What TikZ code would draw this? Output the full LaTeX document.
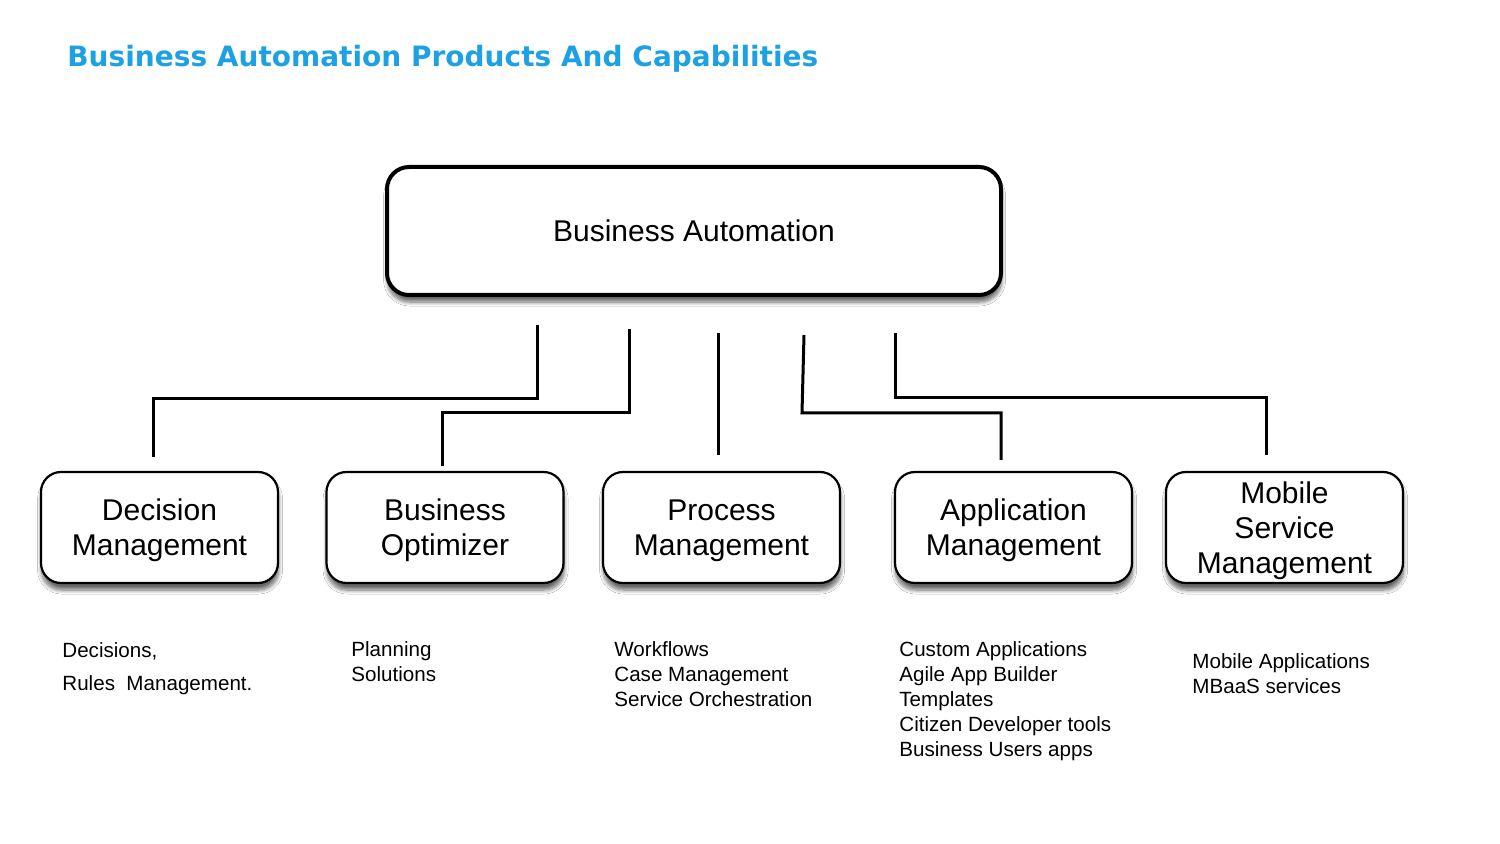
\documentclass[tikz,border=0pt]{standalone}
\usepackage{fontspec}
\setmainfont{Liberation Sans}
\newfontfamily\titlefont{DejaVu Sans}
\usetikzlibrary{shapes.geometric, shadows.blur}
\definecolor{titleblue}{RGB}{29,161,226}

\tikzstyle{topblock} = [rectangle, rounded corners=11pt, minimum width=307pt, minimum height=64pt, text centered, draw=black, line width=2pt, fill=white, blur shadow={shadow xshift=0.3pt, shadow yshift=-3.5pt, shadow blur radius=2pt, shadow blur steps=8, shadow opacity=60}, font=\fontsize{15}{18}\selectfont]
\tikzstyle{block} = [rectangle, rounded corners=10pt, minimum width=118.5pt, minimum height=55.5pt, align=center, draw=black, line width=1.1pt, fill=white, blur shadow={shadow xshift=0.3pt, shadow yshift=-3.5pt, shadow blur radius=2pt, shadow blur steps=8, shadow opacity=60}, font=\fontsize{15}{17.5}\selectfont, text depth=0pt]
\tikzstyle{desc} = [anchor=north west, align=left, inner sep=0pt, font=\fontsize{10.3}{12.5}\selectfont]
\tikzstyle{link} = [line width=1.5pt, line join=miter]

\begin{document}
\begin{tikzpicture}[x=0.5pt, y=-0.5pt]

\fill[white] (0,0) rectangle (1500,844);
\useasboundingbox (0,0) rectangle (1500,844);

% Title
\node (title) [anchor=west, inner sep=0pt, text=titleblue, font=\titlefont\bfseries\fontsize{14}{16}\selectfont] at (67,59) {Business Automation Products And Capabilities};

% Top-level box
\node (ba) [topblock] at (694,231) {Business Automation};

% Product boxes
\node (dm) [block] at (159.5,527.5) {Decision\\Management};
\node (bo) [block] at (445,527.5) {Business\\Optimizer};
\node (pm) [block] at (721.5,527.5) {Process\\Management};
\node (am) [block] at (1013.5,527.5) {Application\\Management};
\node (msm) [block] at (1284.5,527.5) {Mobile\\Service\\Management};

% Capabilities
\node (dm_caps) [desc, font=\fontsize{10.3}{16.8}\selectfont] at (62,642) {Decisions,\\Rules\ \ Management.};
\node (bo_caps) [desc] at (351,641) {Planning\\Solutions};
\node (pm_caps) [desc] at (614,641) {Workflows\\Case Management\\Service Orchestration};
\node (am_caps) [desc] at (899,641) {Custom Applications\\Agile App Builder\\Templates\\Citizen Developer tools\\Business Users apps};
\node (msm_caps) [desc] at (1192,653) {Mobile Applications\\MBaaS services};

% Connector ends
\coordinate (dm_from) at (537,325);
\coordinate (dm_to) at (153,457);
\coordinate (bo_from) at (629,329);
\coordinate (bo_to) at (442,466);
\coordinate (pm_from) at (718,333);
\coordinate (pm_to) at (718,455);
\coordinate (am_from) at (804,335);
\coordinate (am_to) at (1001,460);
\coordinate (msm_from) at (895,333);
\coordinate (msm_to) at (1266,455);

% Connectors from Business Automation to products
\draw [link] (dm_from) -- (dm_from |- 0,399) -- (dm_to |- 0,399) -- (dm_to);
\draw [link] (bo_from) -- (bo_from |- 0,413) -- (bo_to |- 0,413) -- (bo_to);
\draw [link] (pm_from) -- (pm_to);
\draw [link] (am_from) -- (802,413) -- (am_to |- 0,413) -- (am_to);
\draw [link] (msm_from) -- (msm_from |- 0,398) -- (msm_to |- 0,398) -- (msm_to);

\end{tikzpicture}
\end{document}
